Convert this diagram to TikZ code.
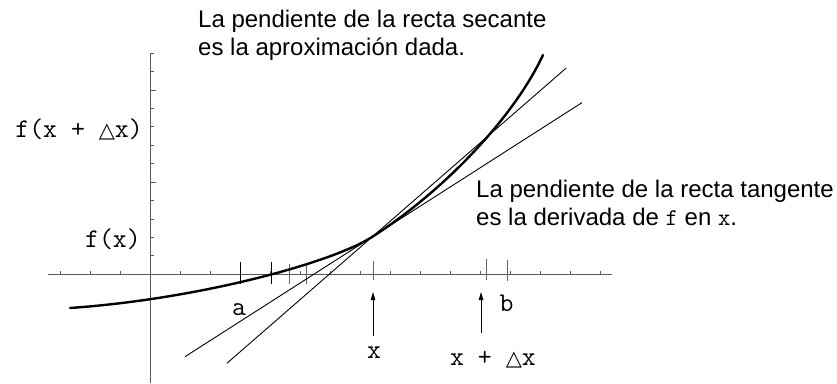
\documentclass[tikz,border=0pt]{standalone}
\usepackage{fontspec}
\setmainfont{Liberation Sans}
\newfontfamily\symf{DejaVu Sans}
\usetikzlibrary{arrows.meta}
\newcommand{\tri}{{\symf\fontsize{21}{24}\selectfont △}}
\begin{document}
\begin{tikzpicture}[x=1pt,y=-1pt,
  axisline/.style={line width=1.3pt,black!65},
  smalltick/.style={line width=0.9pt,black!65},
  bigtick/.style={line width=0.9pt,black},
  greytick/.style={line width=0.9pt,black!60},
  curve/.style={line width=2.4pt,black,line cap=round},
  thinline/.style={line width=0.9pt,black},
  uparrow/.style={line width=0.9pt,black,-{Triangle[length=8pt,width=4.5pt]}},
  maintext/.style={inner sep=0pt,anchor=base west,font=\fontsize{24}{28}\selectfont},
  monolabel/.style={inner sep=0pt,font=\ttfamily\fontsize{27}{29}\selectfont}]
\useasboundingbox (0,0) rectangle (837,383);
% axes
\draw[axisline] (48,274.3) -- (612,274.3);
\draw[axisline] (150.5,53) -- (150.5,383);
\foreach \i in {1,...,12}{
  \pgfmathsetmacro{\yy}{274.3-18.42*\i}
  \pgfmathtruncatemacro{\mm}{mod(\i,5)}
  \ifnum\mm=0
    \draw[smalltick] (150.5,\yy) -- (155.5,\yy);
  \else
    \draw[smalltick] (150.5,\yy) -- (153.5,\yy);
  \fi
}
\foreach \xx in {60,90,120,180,210,240,270,300,330,360,390,420,450,480,510,540,570,600}{
  \draw[smalltick] (\xx,274.3) -- (\xx,271);
}
% marks on x-axis
\draw[bigtick] (240,262) -- (240,284);
\draw[bigtick] (271.5,262) -- (271.5,284);
\draw[greytick] (289,264) -- (289,284);
\draw[greytick] (306.5,264) -- (306.5,284);
\draw[greytick] (373,261) -- (373,280);
\draw[greytick] (486,259) -- (486,280);
\draw[greytick] (507,260) -- (507,281);
% curve: tangent point T at x, secant point at x + dx
\coordinate (P) at (70,308);
\coordinate (T) at (372,237);
\coordinate (E) at (543,55);
\draw[curve] (P) .. controls (200,298.9) and (332,262.6) .. (T)
  .. controls (442,192.2) and (513,119) .. (E);
% tangent (slope 0.64) and secant (slope 0.87) through T
\coordinate (tA) at (185,356.7);
\coordinate (tB) at (582,102.6);
\coordinate (sA) at (227,363.2);
\coordinate (sB) at (566,68.2);
\draw[thinline] (tA) -- (tB);
\draw[thinline] (sA) -- (sB);
% labels
\node[monolabel,anchor=base east] (fxdx) at (143,137) {f(x + \tri x)};
\node[monolabel,anchor=base east] (fx) at (141,247) {f(x)};
\node[monolabel,anchor=base] (la) at (239,315) {a};
\node[monolabel,anchor=base] (lb) at (506.5,311) {b};
\node[monolabel,anchor=base] (lx) at (374,358) {x};
\node[monolabel,anchor=base] (lxdx) at (493,365) {x + \tri x};
\coordinate (ax1) at (373,336);
\coordinate (ax2) at (373,292);
\coordinate (bx1) at (481,333);
\coordinate (bx2) at (481,292);
\draw[uparrow] (ax1) -- (ax2);
\draw[uparrow] (bx1) -- (bx2);
\node[maintext] (sec1) at (198,27) {La pendiente de la recta secante};
\node[maintext] (sec2) at (198,55) {es la aproximación dada.};
\node[maintext] (tan1) at (476,197) {La pendiente de la recta tangente};
\node[maintext] (tan2) at (476,225) {es la derivada de {\ttfamily f} en {\ttfamily x}.};
\end{tikzpicture}
\end{document}
